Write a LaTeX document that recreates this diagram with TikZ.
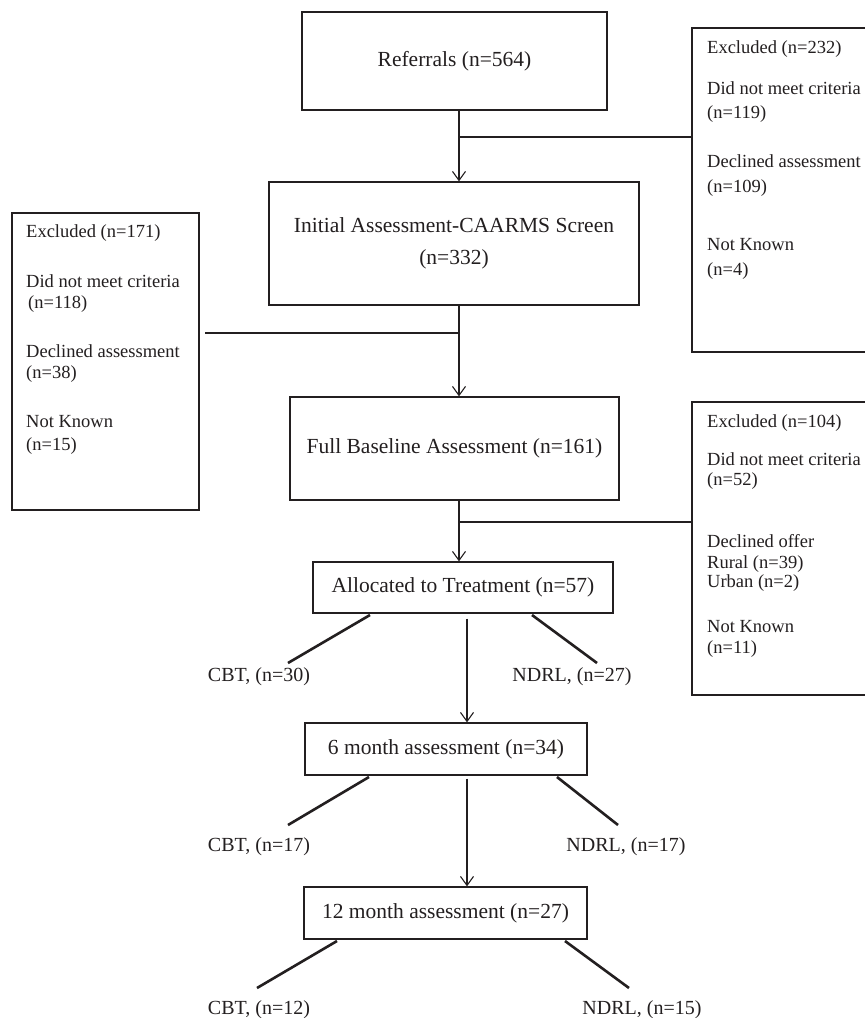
\documentclass[tikz,border=0pt]{standalone}
\usepackage{fontspec}
\setmainfont{Liberation Serif}
\usetikzlibrary{arrows.meta}
\definecolor{ink}{RGB}{35,31,32}
\begin{document}
\begin{tikzpicture}[x=1pt,y=-1pt,
  every node/.style={text=ink},
  mainbox/.style={draw=ink,line width=1.3pt,rectangle,inner sep=0pt,align=center,font=\fontsize{21.5}{32}\selectfont},
  sidebox/.style={draw=ink,line width=1.3pt,rectangle,inner sep=0pt},
  sidetext/.style={anchor=base west,inner sep=0pt,font=\fontsize{18.5}{22}\selectfont},
  lbl/.style={inner sep=0pt,font=\fontsize{20}{24}\selectfont},
  conn/.style={draw=ink,line width=1.2pt},
  arr/.style={-{Straight Barb[length=9pt,width=13pt,line width=1.1pt]}},
  diag/.style={draw=ink,line width=2.6pt}]
\useasboundingbox (0,0) rectangle (865,1018);
\clip (0,0) rectangle (865,1018);
\fill[white] (0,0) rectangle (865,1018);

% main boxes
\node[mainbox,minimum width=305pt,minimum height=98pt] (ref) at (454.5,61) {Referrals (n=564)};
\node[mainbox,minimum width=370pt,minimum height=123pt] (init) at (454,243.5) {Initial Assessment-CAARMS Screen\\(n=332)};
\node[mainbox,minimum width=329pt,minimum height=103pt] (full) at (454.5,448.5) {Full Baseline Assessment (n=161)};
\node[mainbox,minimum width=300pt,minimum height=51pt] (alloc) at (463,587.5) {Allocated to Treatment (n=57)};
\node[mainbox,minimum width=282pt,minimum height=52pt] (six) at (446,749) {6 month assessment (n=34)};
\node[mainbox,minimum width=283pt,minimum height=52pt] (twelve) at (445.5,913) {12 month assessment (n=27)};

% side boxes
\node[sidebox,minimum width=188pt,minimum height=324pt] (exc1) at (786,190) {};
\node[sidebox,minimum width=187pt,minimum height=297pt] (exc2) at (105.5,361.5) {};
\node[sidebox,minimum width=188pt,minimum height=293pt] (exc3) at (786,548.5) {};

\foreach \y/\t [count=\i] in {48/Excluded (n=232),89/Did not meet criteria,113/(n=119),162/Declined assessment,187/(n=109),245/Not Known,270/(n=4)}
  \node[sidetext] (ea\i) at (707,\y+5.5) {\t};
\foreach \y/\t [count=\i] in {232/Excluded (n=171),282/Did not meet criteria,303/\hspace{2pt}(n=118),352/Declined assessment,373/(n=38),422/Not Known,445/(n=15)}
  \node[sidetext] (eb\i) at (26,\y+5.5) {\t};
\foreach \y/\t [count=\i] in {422/Excluded (n=104),460/Did not meet criteria,480/(n=52),542/Declined offer,563/Rural (n=39),582/Urban (n=2),627/Not Known,648/(n=11)}
  \node[sidetext] (ec\i) at (707,\y+5.5) {\t};

% spine connectors
\coordinate (j1) at (459,137);
\draw[conn] (ref.south -| j1) -- (j1);
\draw[conn,arr] (j1) -- (init.north -| j1);
\draw[conn] (j1) -- (j1 -| exc1.west);

\coordinate (j2) at (459,333);
\draw[conn] (init.south -| j2) -- (j2);
\draw[conn,arr] (j2) -- (full.north -| j2);
\draw[conn] (j2) -- ([xshift=5pt]j2 -| exc2.east);

\coordinate (j3) at (459,522);
\draw[conn] (full.south -| j3) -- (j3);
\draw[conn,arr] (j3) -- (alloc.north -| j3);
\draw[conn] (j3) -- (j3 -| exc3.west);

\coordinate (c1) at (467,700);
\draw[conn,arr] ([yshift=-5pt]alloc.south -| c1) -- (six.north -| c1);
\draw[conn,arr] ([yshift=-3pt]six.south -| c1) -- (twelve.north -| c1);

% branch labels
\node[lbl] (cbt1) at (259,677) {CBT, (n=30)};
\node[lbl] (ndrl1) at (572,677) {NDRL, (n=27)};
\node[lbl] (cbt2) at (259,847) {CBT, (n=17)};
\node[lbl] (ndrl2) at (626,847) {NDRL, (n=17)};
\node[lbl] (cbt3) at (259,1010) {CBT, (n=12)};
\node[lbl] (ndrl3) at (642,1010) {NDRL, (n=15)};

% diagonal branches
\coordinate (a1s) at (370,615); \coordinate (a1e) at (288,663);
\coordinate (a2s) at (532,615); \coordinate (a2e) at (597,663);
\coordinate (b1s) at (369,777); \coordinate (b1e) at (288,825);
\coordinate (b2s) at (557,777); \coordinate (b2e) at (618,825);
\coordinate (d1s) at (337,941); \coordinate (d1e) at (257,988);
\coordinate (d2s) at (565,941); \coordinate (d2e) at (629,988);
\draw[diag] (a1s) -- (a1e);
\draw[diag] (a2s) -- (a2e);
\draw[diag] (b1s) -- (b1e);
\draw[diag] (b2s) -- (b2e);
\draw[diag] (d1s) -- (d1e);
\draw[diag] (d2s) -- (d2e);
\end{tikzpicture}
\end{document}
